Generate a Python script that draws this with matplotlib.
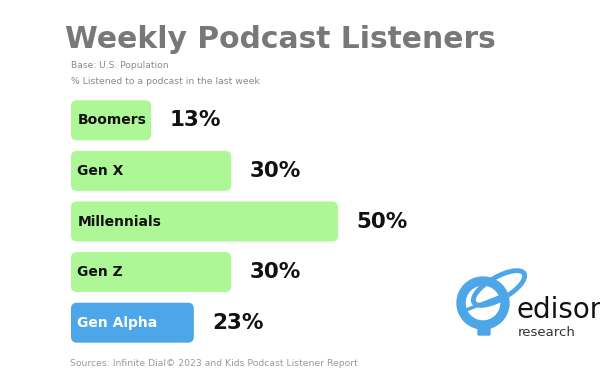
import matplotlib.pyplot as plt
from matplotlib.patches import FancyBboxPatch, Ellipse, Wedge

WIDTH = 600
HEIGHT = 372

categories = ["Boomers", "Gen X", "Millennials", "Gen Z", "Gen Alpha"]
values = [13, 30, 50, 30, 23]
bar_colors = ["#adf796", "#adf796", "#adf796", "#adf796", "#4da6e8"]
label_colors = ["#111111", "#111111", "#111111", "#111111", "#ffffff"]

title = "Weekly Podcast Listeners"
subtitle1 = "Base: U.S. Population"
subtitle2 = "% Listened to a podcast in the last week"
source = "Sources: Infinite Dial\u00a9 2023 and Kids Podcast Listener Report"

MIN_BAR = 15  # short bars still need room for their label

fig = plt.figure(figsize=(WIDTH / 100, HEIGHT / 100), dpi=100)
fig.patch.set_facecolor("white")

# bar axes: pixel box x 71..600, y 95..348
ax = fig.add_axes([71 / WIDTH, (HEIGHT - 348) / HEIGHT, 529 / WIDTH, 253 / HEIGHT])
ax.set_xlim(0, 529 / 5.34)
ax.set_ylim(len(categories) - 0.5, -0.5)
ax.axis("off")

px_x = 5.34
px_y = 253 / len(categories)
aspect = px_x / px_y
bar_h = 0.79

for i, (cat, v) in enumerate(zip(categories, values)):
    w = max(v, MIN_BAR)
    box = FancyBboxPatch(
        (0, i - bar_h / 2), w, bar_h,
        boxstyle="round,pad=0,rounding_size=1.1",
        mutation_aspect=aspect,
        facecolor=bar_colors[i], edgecolor="none",
    )
    ax.add_patch(box)
    ax.text(1.2, i, cat, ha="left", va="center", fontsize=10,
            fontweight="bold", color=label_colors[i])
    ax.annotate(f"{v}%", (w, i), xytext=(13, 0), textcoords="offset points",
                ha="left", va="center", fontsize=15.5, fontweight="bold",
                color="#111111")

# titles
fig.text(65 / WIDTH, 1 - 40 / HEIGHT, title, ha="left", va="center",
         fontsize=21.4, fontweight="bold", color="#787878")
fig.text(71 / WIDTH, 1 - 66 / HEIGHT, subtitle1, ha="left", va="center",
         fontsize=6.6, color="#8a8a8a")
fig.text(71 / WIDTH, 1 - 81 / HEIGHT, subtitle2, ha="left", va="center",
         fontsize=6.7, color="#8a8a8a")
fig.text(70 / WIDTH, 1 - 363 / HEIGHT, source, ha="left", va="center",
         fontsize=6.7, color="#9a9a9a")

# edison research logo (rough)
lax = fig.add_axes([0, 0, 1, 1], zorder=5)
lax.set_xlim(0, WIDTH)
lax.set_ylim(HEIGHT, 0)
lax.axis("off")
blue = "#4da6e8"
lax.add_patch(Wedge((483, 303), 26, 0, 360, width=8, color=blue))
lax.add_patch(Ellipse((499, 288), 58, 22, angle=-30, fill=False,
                      edgecolor=blue, linewidth=3.5))
lax.plot([466, 502], [310, 296], color=blue, linewidth=2.5,
         solid_capstyle="round")
lax.add_patch(FancyBboxPatch((479, 328), 10, 6, boxstyle="round,pad=1",
                             color=blue))
lax.text(517, 318, "edison", ha="left", va="baseline", fontsize=20,
         color="#111111", clip_on=True)
lax.text(518, 333, "research", ha="left", va="center", fontsize=9.5,
         color="#333333")

fig.savefig("out.png", dpi=100, facecolor="white")
